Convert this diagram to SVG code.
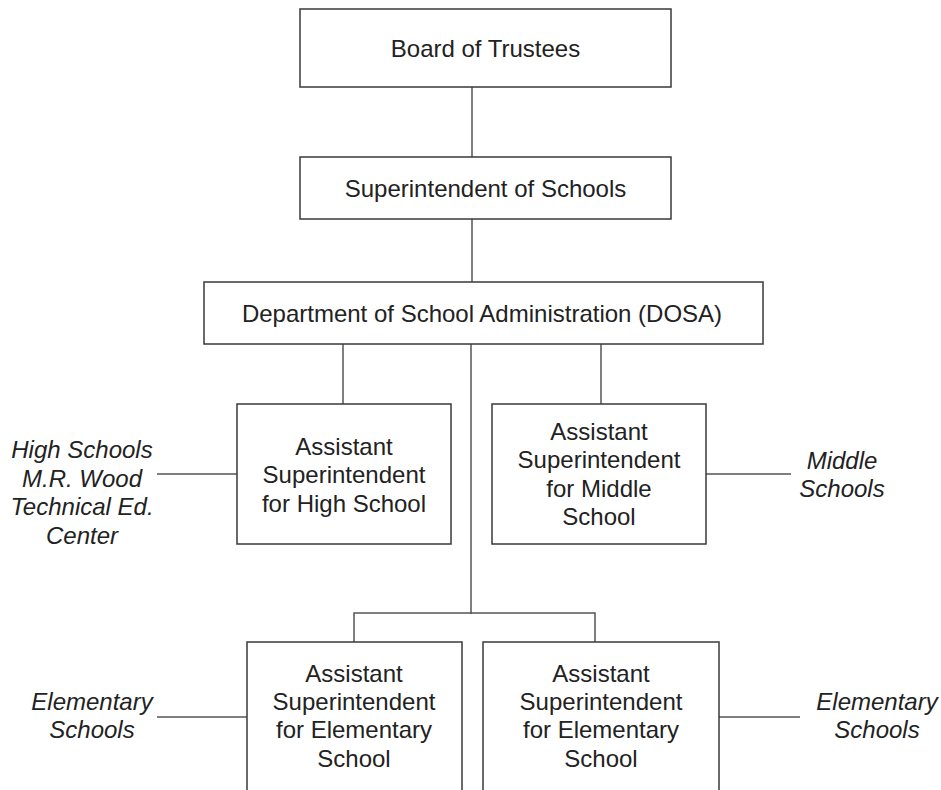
<svg xmlns="http://www.w3.org/2000/svg" width="941" height="790" viewBox="0 0 941 790">
<style>
.box{fill:#fff;stroke:#3a3a3a;stroke-width:1.5}
.ln{fill:none;stroke:#555;stroke-width:1.5}
text{font-family:"Liberation Sans",Arial,sans-serif;font-size:24px;fill:#222;text-anchor:middle}
.it{font-style:italic}
</style>
<rect width="941" height="790" fill="#fff"/>
<g id="connectors">
<path class="ln" d="M472,87 V157"/>
<path class="ln" d="M472,219 V282"/>
<path class="ln" d="M343,344 V404"/>
<path class="ln" d="M601,344 V404"/>
<path class="ln" d="M471,344 V614"/>
<path class="ln" d="M354,642 V613 H595 V642"/>
<path class="ln" d="M157,474 H237"/>
<path class="ln" d="M706,474 H791"/>
<path class="ln" d="M157,717 H247"/>
<path class="ln" d="M719,717 H800"/>
</g>
<g id="board">
<rect class="box" x="300" y="9" width="371" height="78"/>
<text x="485.5" y="57">Board of Trustees</text>
</g>
<g id="superintendent">
<rect class="box" x="300" y="157" width="371" height="62"/>
<text x="485.5" y="197">Superintendent of Schools</text>
</g>
<g id="dosa">
<rect class="box" x="204" y="282" width="559" height="62"/>
<text x="482" y="322">Department of School Administration (DOSA)</text>
</g>
<g id="ash">
<rect class="box" x="237" y="404" width="214" height="140"/>
<text x="344" y="455">Assistant</text>
<text x="344" y="483">Superintendent</text>
<text x="344" y="512">for High School</text>
</g>
<g id="asm">
<rect class="box" x="492" y="404" width="214" height="140"/>
<text x="599" y="440">Assistant</text>
<text x="599" y="468">Superintendent</text>
<text x="599" y="497">for Middle</text>
<text x="599" y="525">School</text>
</g>
<g id="ase1">
<rect class="box" x="247" y="642" width="215" height="170"/>
<text x="354" y="682">Assistant</text>
<text x="354" y="710">Superintendent</text>
<text x="354" y="738">for Elementary</text>
<text x="354" y="767">School</text>
</g>
<g id="ase2">
<rect class="box" x="483" y="642" width="236" height="170"/>
<text x="601" y="682">Assistant</text>
<text x="601" y="710">Superintendent</text>
<text x="601" y="738">for Elementary</text>
<text x="601" y="767">School</text>
</g>
<g id="label-high">
<text class="it" x="82" y="458">High Schools</text>
<text class="it" x="82" y="486.5">M.R. Wood</text>
<text class="it" x="82" y="515">Technical Ed.</text>
<text class="it" x="82" y="543.5">Center</text>
</g>
<g id="label-middle">
<text class="it" x="842" y="469">Middle</text>
<text class="it" x="842" y="497">Schools</text>
</g>
<g id="label-elem1">
<text class="it" x="92" y="710">Elementary</text>
<text class="it" x="92" y="738">Schools</text>
</g>
<g id="label-elem2">
<text class="it" x="877" y="710">Elementary</text>
<text class="it" x="877" y="738">Schools</text>
</g>
</svg>
